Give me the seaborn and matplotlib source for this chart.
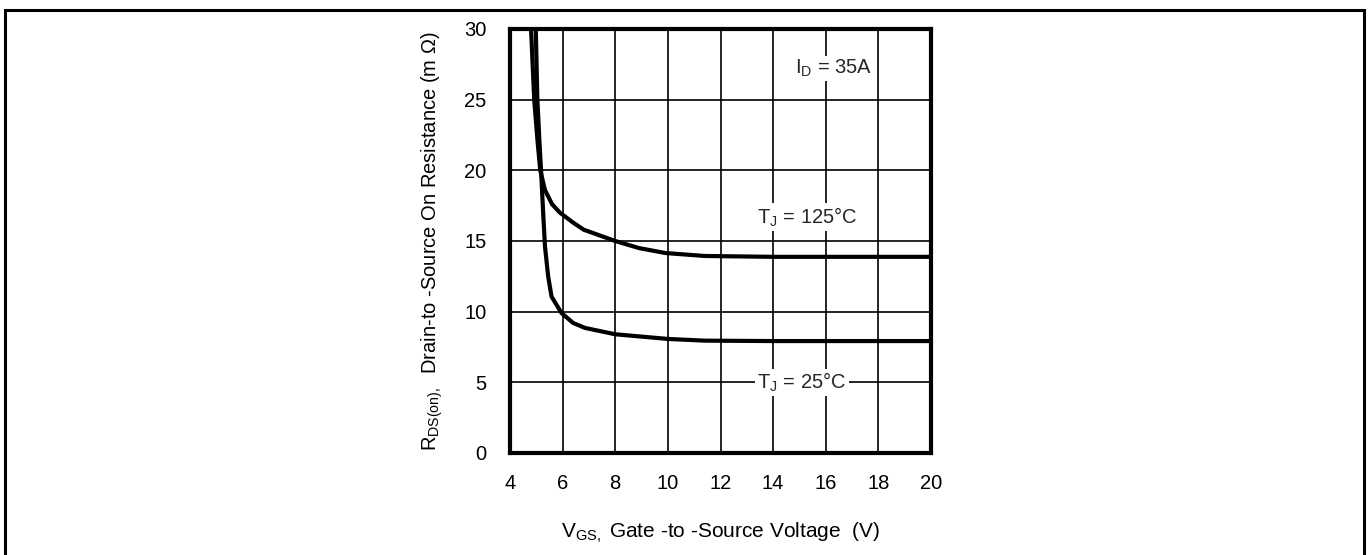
import pandas as pd
import numpy as np
import seaborn as sns
import matplotlib.pyplot as plt
from matplotlib.patches import Rectangle

sns.set_theme(style='white')
plt.rcParams['font.family'] = ['Liberation Sans', 'DejaVu Sans']
plt.rcParams['mathtext.fontset'] = 'custom'
plt.rcParams['mathtext.rm'] = 'Liberation Sans'
plt.rcParams['mathtext.it'] = 'Liberation Sans'

# values
vgs_125 = [4.80, 4.92, 5.05, 5.15, 5.33, 5.6, 5.9, 6.4, 6.8, 7.4, 8.0, 8.9, 9.9, 11.4, 14.0, 20.0]
rds_125 = [30.0, 25.0, 22.0, 20.0, 18.6, 17.6, 17.0, 16.3, 15.8, 15.4, 15.0, 14.5, 14.15, 13.94, 13.88, 13.88]

vgs_25 = [4.98, 5.04, 5.12, 5.18, 5.26, 5.33, 5.45, 5.58, 5.96, 6.4, 6.85, 8.0, 10.0, 11.4, 14.0, 20.0]
rds_25 = [30.0, 25.0, 22.0, 20.0, 17.0, 14.6, 12.5, 11.06, 9.9, 9.2, 8.85, 8.4, 8.07, 7.95, 7.92, 7.92]

x_ticks = [4, 6, 8, 10, 12, 14, 16, 18, 20]
y_ticks = [0, 5, 10, 15, 20, 25, 30]

df = pd.concat([
  pd.DataFrame({'vgs': vgs_125, 'rds': rds_125, 'tj': '125C'}),
  pd.DataFrame({'vgs': vgs_25, 'rds': rds_25, 'tj': '25C'}),
])

fig = plt.figure(figsize=(13.69, 5.55), dpi=100)
ax = fig.add_axes([510/1369, 1 - 453/555, 421/1369, 424/555])

sns.lineplot(data=df, x='vgs', y='rds', hue='tj', palette=['black', 'black'],
             estimator=None, sort=False, legend=False, lw=3, ax=ax)

fs = 14.5
ax.set_xlim(4, 20)
ax.set_ylim(0, 30)
ax.set_xticks(x_ticks)
ax.set_yticks(y_ticks)
ax.grid(True, color='black', lw=1.2)
ax.set_axisbelow(True)
for s in ax.spines.values():
  s.set_color('black')
  s.set_linewidth(3)
ax.tick_params(axis='both', length=0, labelsize=fs, colors='black')
ax.tick_params(axis='x', pad=15)
ax.tick_params(axis='y', pad=17)

ax.set_xlabel(r'$\mathregular{V_{GS,}}$ Gate -to -Source Voltage  (V)', fontsize=fs + 0.5, labelpad=20, color='black')
ax.set_ylabel(r'$\mathregular{R_{DS(on),}}$  Drain-to -Source On Resistance (m $\Omega$)', fontsize=fs, labelpad=14, color='black')

box = dict(facecolor='white', edgecolor='none', pad=1.5)
ax.text(16.3, 27.2, r'$\mathregular{I_D}$ = 35A', ha='center', va='center', fontsize=fs, bbox=box)
ax.text(15.3, 16.7, r'$\mathregular{T_J}$ = 125°C', ha='center', va='center', fontsize=fs, bbox=box)
ax.text(15.1, 5.0, r'$\mathregular{T_J}$ = 25°C', ha='center', va='center', fontsize=fs, bbox=box)

# outer frame of the image
fig.patches.append(Rectangle((5/1369, -0.05), 1359/1369, 1.05 - 10/555, transform=fig.transFigure,
                             fill=False, edgecolor='black', lw=2.2))

fig.savefig('out.png', dpi=100)
